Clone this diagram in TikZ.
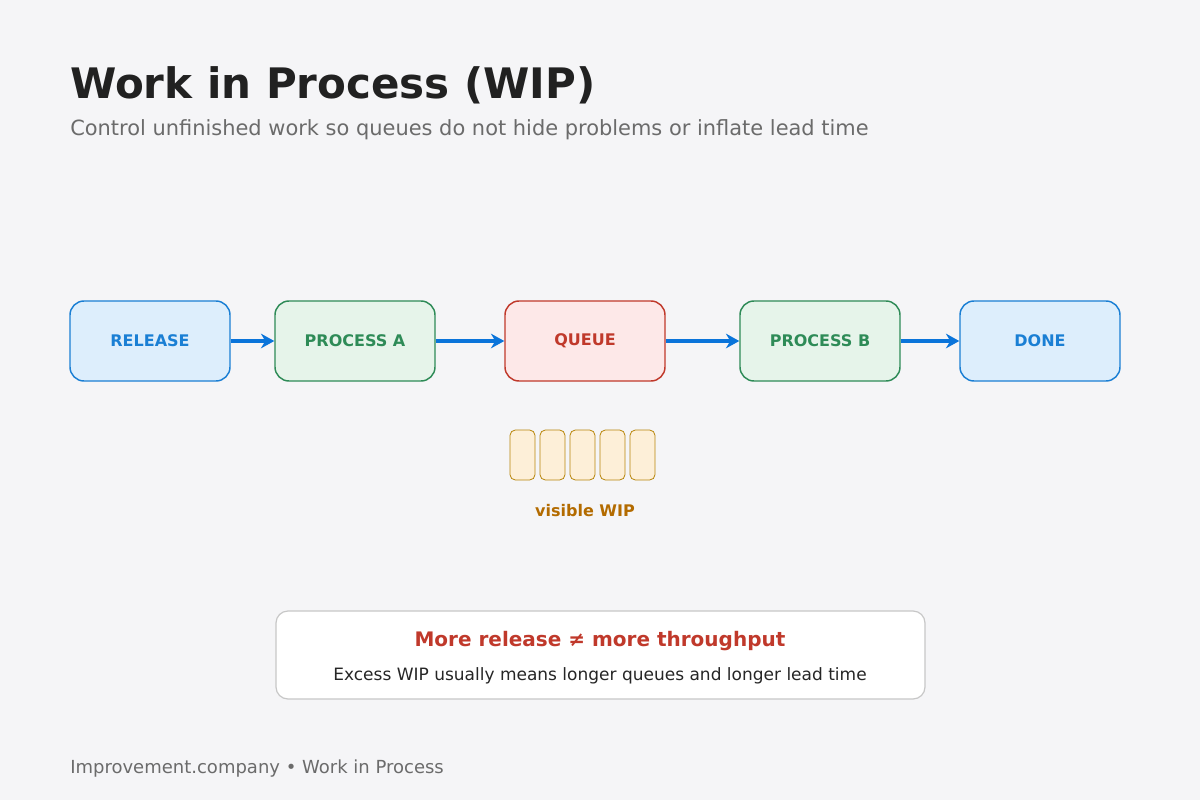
\documentclass[tikz,border=0pt]{standalone}
\usepackage{fontspec}
\setmainfont{DejaVu Sans}
\usetikzlibrary{arrows.meta}
\definecolor{bg}{HTML}{F5F5F7}
\definecolor{bst}{HTML}{1A7FD4}\definecolor{bfi}{HTML}{DDEEFC}
\definecolor{gst}{HTML}{2E8B57}\definecolor{gfi}{HTML}{E6F4EA}
\definecolor{rst}{HTML}{C0392B}\definecolor{rfi}{HTML}{FDE8E8}
\definecolor{ost}{HTML}{B8860B}\definecolor{ofi}{HTML}{FDEFD8}
\definecolor{otx}{HTML}{B36B00}
\definecolor{arr}{HTML}{0A74DA}
\begin{document}
\begin{tikzpicture}[x=0.75pt,y=-0.75pt,
 stage/.style={draw,line width=1.1pt,rounded corners=10.5pt,minimum width=120pt,minimum height=60pt,font=\fontsize{12}{14}\selectfont\bfseries},
 blue/.style={stage,draw=bst,fill=bfi,text=bst},
 green/.style={stage,draw=gst,fill=gfi,text=gst},
 red/.style={stage,draw=rst,fill=rfi,text=rst},
 card/.style={draw=ost,fill=ofi,line width=0.6pt,rounded corners=4pt,minimum width=18.75pt,minimum height=37.5pt,inner sep=0},
 flow/.style={draw=arr,line width=3.2pt,-{Stealth[length=10pt,width=11pt]}}]
\useasboundingbox[fill=bg] (0,0) rectangle (1200,800);
\node[anchor=base west,inner sep=0,font=\fontsize{31.5}{38}\selectfont\bfseries,text=black!87] (title) at (70,98) {Work in Process (WIP)};
\node[anchor=base west,inner sep=0,font=\fontsize{15.7}{18}\selectfont,text=black!58] (sub) at (70,135) {Control unfinished work so queues do not hide problems or inflate lead time};
\node[blue] (rel) at (150,341) {RELEASE};
\node[green] (pa) at (355,341) {PROCESS A};
\node[red] (q) at (585,341) {QUEUE};
\node[green] (pb) at (820,341) {PROCESS B};
\node[blue] (done) at (1040,341) {DONE};
\draw[flow] (rel) -- (pa);
\draw[flow] (pa) -- (q);
\draw[flow] (q) -- (pb);
\draw[flow] (pb) -- (done);
\foreach \i/\x in {1/522.5,2/552.5,3/582.5,4/612.5,5/642.5}{\node[card] (c\i) at (\x,455) {};}
\node[font=\fontsize{12}{14}\selectfont\bfseries,text=otx] (vw) at (585,511) {visible WIP};
\node[draw=black!22,fill=white,line width=0.9pt,rounded corners=9pt,minimum width=486.75pt,minimum height=66pt] (box) at (600.5,655) {};
\node[font=\fontsize{15}{18}\selectfont\bfseries,text=rst] (bt) at (600,641) {More release ≠ more throughput};
\node[font=\fontsize{12.75}{15}\selectfont,text=black!85] (bs) at (600,676) {Excess WIP usually means longer queues and longer lead time};
\node[anchor=base west,inner sep=0,font=\fontsize{13.5}{16}\selectfont,text=black!58] (foot) at (70,773) {Improvement.company • Work in Process};
\end{tikzpicture}
\end{document}
